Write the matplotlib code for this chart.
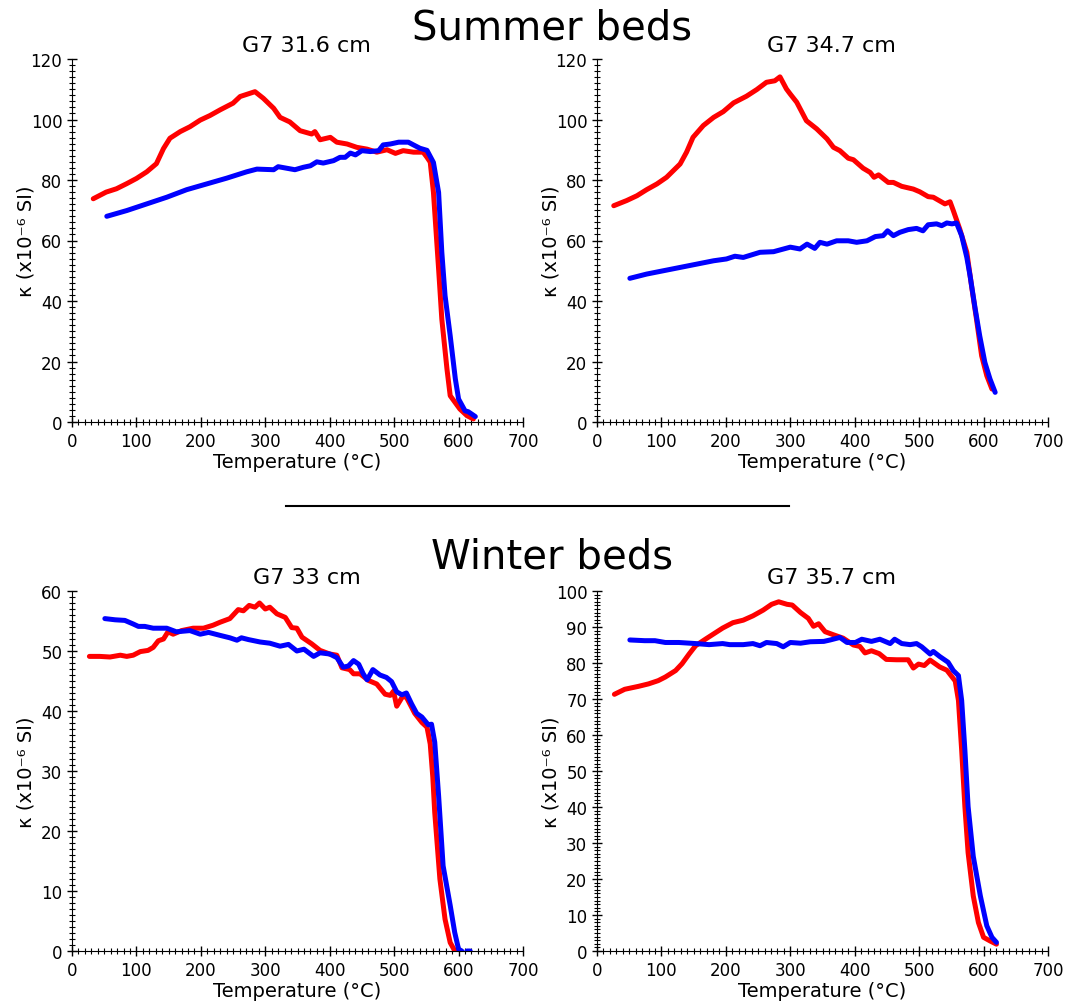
import numpy as np
import matplotlib.pyplot as plt
from matplotlib.ticker import MultipleLocator
from matplotlib.lines import Line2D

# G7 31.6 cm (summer)
t_316_heat = [33, 53, 69, 85, 100, 116, 131, 142, 152, 168, 183, 199, 214, 230, 250, 261, 284, 297,
              313, 323, 338, 354, 372, 377, 385, 401, 411, 427, 442, 458, 473, 489, 502, 514, 530,
              545, 551, 556, 561, 569, 574, 582, 587, 602, 613, 623]
k_316_heat = [73.8, 76.0, 77.1, 78.8, 80.5, 82.7, 85.4, 90.4, 93.8, 96.0, 97.6, 99.8, 101.3, 103.2,
              105.4, 107.6, 109.2, 107.0, 103.7, 100.7, 99.2, 96.3, 95.2, 96.0, 93.3, 94.1, 92.5,
              91.9, 90.8, 90.2, 89.2, 90.0, 88.8, 89.7, 89.2, 89.2, 87.5, 85.9, 75.9, 50.6, 34.0,
              17.5, 8.7, 4.3, 2.1, 1.0]
t_316_cool = [54, 85, 116, 147, 178, 209, 240, 271, 287, 313, 320, 333, 346, 359, 370, 380, 390, 406,
              416, 424, 432, 440, 450, 463, 476, 483, 494, 507, 522, 530, 540, 551, 561, 569, 574,
              579, 587, 595, 600, 610, 615, 626]
k_316_cool = [68.0, 69.9, 72.1, 74.3, 76.8, 78.7, 80.6, 82.7, 83.6, 83.4, 84.4, 83.9, 83.4, 84.2,
              84.7, 86.0, 85.6, 86.4, 87.5, 87.5, 88.9, 88.3, 89.7, 89.4, 89.7, 91.6, 91.9, 92.5,
              92.5, 91.6, 90.5, 89.8, 85.8, 75.9, 56.1, 41.8, 28.5, 14.2, 7.6, 3.7, 3.4, 1.8]

# G7 34.7 cm (summer)
t_347_heat = [26, 46, 62, 77, 93, 108, 129, 139, 149, 165, 181, 196, 212, 232, 248, 263, 276, 284,
              294, 300, 310, 325, 341, 357, 367, 377, 390, 398, 413, 424, 430, 437, 452, 460, 473,
              491, 501, 514, 522, 540, 548, 553, 563, 574, 582, 589, 597, 605, 613]
k_347_heat = [71.5, 73.2, 74.8, 76.8, 78.7, 80.9, 85.3, 89.2, 94.1, 98.0, 100.7, 102.6, 105.5,
              107.7, 109.9, 112.3, 112.8, 114.1, 110.1, 108.4, 105.7, 99.6, 96.9, 93.6, 90.8, 89.7,
              87.2, 86.7, 83.9, 82.5, 80.9, 81.7, 79.2, 79.2, 77.9, 77.0, 76.1, 74.5, 74.3, 72.1,
              72.8, 69.9, 63.8, 56.1, 44.0, 34.0, 21.9, 15.3, 10.9]
t_347_cool = [51, 77, 103, 129, 155, 181, 201, 214, 227, 253, 274, 300, 315, 326, 338, 346, 357, 372,
              390, 403, 419, 432, 444, 451, 460, 470, 483, 496, 506, 514, 527, 535, 543, 551, 558,
              566, 574, 579, 587, 594, 602, 610, 618]
k_347_cool = [47.5, 48.9, 50.0, 51.1, 52.2, 53.3, 53.9, 54.8, 54.4, 56.1, 56.3, 57.8, 57.2, 58.8,
              57.4, 59.4, 58.8, 59.9, 59.9, 59.4, 59.9, 61.3, 61.6, 63.2, 61.6, 62.7, 63.6, 64.0,
              63.2, 65.2, 65.5, 64.9, 65.8, 65.5, 65.8, 61.6, 54.4, 48.4, 37.4, 28.5, 19.7, 14.2, 9.8]

# G7 33 cm (winter)
t_33_heat = [27, 43, 59, 75, 85, 95, 106, 118, 126, 134, 142, 149, 157, 170, 188, 204, 219, 230, 245,
             258, 266, 275, 284, 291, 300, 307, 318, 331, 341, 349, 357, 372, 385, 400, 411, 419,
             431, 437, 447, 460, 473, 486, 494, 499, 504, 513, 519, 532, 543, 551, 556, 560, 563,
             571, 579, 587, 594]
k_33_heat = [49.1, 49.1, 49.0, 49.3, 49.1, 49.3, 49.9, 50.1, 50.6, 51.7, 52.0, 53.2, 52.8, 53.4,
             53.8, 53.8, 54.3, 54.8, 55.4, 56.9, 56.7, 57.6, 57.3, 58.0, 57.0, 57.3, 56.2, 55.6,
             53.9, 53.8, 52.3, 51.2, 50.1, 49.5, 49.3, 47.2, 46.9, 46.2, 46.2, 45.1, 44.5, 42.8,
             42.6, 43.3, 40.8, 42.4, 42.3, 39.6, 38.1, 37.3, 34.5, 29.0, 23.1, 12.0, 5.3, 1.4, 0.05]
t_33_cool = [51, 67, 82, 95, 103, 113, 126, 147, 162, 183, 199, 212, 230, 245, 256, 263, 274, 292,
             307, 323, 336, 349, 360, 375, 385, 400, 411, 421, 429, 437, 445, 452, 458, 467, 478,
             488, 496, 504, 512, 519, 527, 535, 543, 553, 558, 563, 569, 576, 587, 594, 600, 605,
             611, 613, 618]
k_33_cool = [55.4, 55.2, 55.1, 54.5, 54.1, 54.1, 53.8, 53.8, 53.2, 53.4, 52.8, 53.1, 52.6, 52.2,
             51.8, 52.2, 51.9, 51.5, 51.3, 50.8, 51.1, 50.0, 50.3, 49.1, 49.7, 49.5, 48.9, 47.3,
             47.5, 48.4, 47.8, 46.2, 45.2, 46.9, 46.0, 45.6, 44.9, 43.2, 42.7, 43.0, 41.2, 39.6,
             39.0, 37.7, 37.8, 34.8, 25.9, 14.2, 7.6, 3.1, 0.3, 0.0, np.nan, 0.0, 0.0]

# G7 35.7 cm (winter)
t_357_heat = [27, 43, 64, 80, 95, 106, 122, 132, 143, 153, 169, 182, 195, 211, 227, 242, 258, 271,
              282, 295, 303, 316, 328, 336, 344, 354, 366, 382, 398, 408, 416, 426, 438, 449, 465,
              483, 491, 499, 508, 517, 532, 543, 556, 561, 566, 571, 576, 584, 592, 600, 610, 620]
k_357_heat = [71.3, 72.7, 73.5, 74.2, 75.1, 76.1, 77.9, 79.8, 82.5, 84.8, 86.7, 88.2, 89.7, 91.2,
              91.9, 93.1, 94.7, 96.3, 97.0, 96.3, 96.1, 94.0, 92.4, 90.2, 90.9, 88.7, 87.9, 86.9,
              85.0, 84.6, 82.8, 83.4, 82.6, 81.0, 80.9, 80.9, 78.6, 79.7, 79.3, 80.8, 78.9, 78.0,
              75.0, 69.6, 55.8, 40.1, 27.3, 15.3, 7.9, 3.8, 2.8, 1.9]
t_357_cool = [51, 74, 90, 106, 127, 153, 174, 195, 206, 227, 242, 253, 263, 279, 289, 300, 316, 331,
              352, 362, 377, 388, 401, 411, 426, 439, 455, 462, 473, 486, 496, 504, 517, 522, 532,
              545, 553, 561, 566, 571, 576, 584, 595, 605, 613, 620]
k_357_cool = [86.4, 86.2, 86.2, 85.7, 85.7, 85.4, 85.1, 85.4, 85.1, 85.1, 85.4, 84.8, 85.7, 85.4,
              84.5, 85.7, 85.5, 85.9, 86.0, 86.4, 87.1, 85.7, 85.7, 86.6, 86.0, 86.6, 85.4, 86.6,
              85.4, 85.1, 85.4, 84.5, 82.5, 83.2, 81.8, 80.2, 77.9, 76.5, 69.6, 55.8, 40.1, 26.3,
              15.3, 7.0, 3.8, 2.4]

panels = [
    ('G7 31.6 cm', t_316_heat, k_316_heat, t_316_cool, k_316_cool, 120, 20, 2),
    ('G7 34.7 cm', t_347_heat, k_347_heat, t_347_cool, k_347_cool, 120, 20, 2),
    ('G7 33 cm', t_33_heat, k_33_heat, t_33_cool, k_33_cool, 60, 10, 1),
    ('G7 35.7 cm', t_357_heat, k_357_heat, t_357_cool, k_357_cool, 100, 10, 1),
]

W, H = 1082, 1004
fig = plt.figure(figsize=(W / 100, H / 100), dpi=100)

# axes boxes in pixels: left, top, right, bottom
boxes = [(72, 60, 523, 423), (597, 60, 1048, 423),
         (72, 592, 523, 952), (597, 592, 1048, 952)]

for (title, th, kh, tc, kc, ymax, ymaj, ymin), (x0, y0, x1, y1) in zip(panels, boxes):
    ax = fig.add_axes([x0 / W, 1 - y1 / H, (x1 - x0) / W, (y1 - y0) / H])
    ax.plot(th, kh, color='#ff0000', lw=3.6, solid_capstyle='round', solid_joinstyle='round')
    ax.plot(tc, kc, color='#0000ff', lw=3.6, solid_capstyle='round', solid_joinstyle='round')
    ax.set_xlim(0, 700)
    ax.set_ylim(0, ymax)
    ax.xaxis.set_major_locator(MultipleLocator(100))
    ax.xaxis.set_minor_locator(MultipleLocator(10))
    ax.yaxis.set_major_locator(MultipleLocator(ymaj))
    ax.yaxis.set_minor_locator(MultipleLocator(ymin))
    ax.spines['top'].set_visible(False)
    ax.spines['right'].set_visible(False)
    ax.tick_params(which='major', direction='inout', length=7, width=1, labelsize=12)
    ax.tick_params(which='minor', direction='inout', length=4, width=0.8)
    ax.set_xlabel('Temperature (°C)', fontsize=14, labelpad=2)
    ax.set_ylabel('κ (x10⁻⁶ SI)', fontsize=14)
    ax.yaxis.set_label_coords(-0.082, 0.5)
    ax.set_title(title, fontsize=16, x=0.52, pad=6)

fig.text(552 / W, 1 - 28 / H, 'Summer beds', fontsize=29, ha='center', va='center')
fig.text(552 / W, 1 - 558 / H, 'Winter beds', fontsize=29, ha='center', va='center')
fig.add_artist(Line2D([286 / W, 789 / W], [1 - 507 / H, 1 - 507 / H], color='black', lw=1.5))

fig.savefig('out.png', dpi=100)
